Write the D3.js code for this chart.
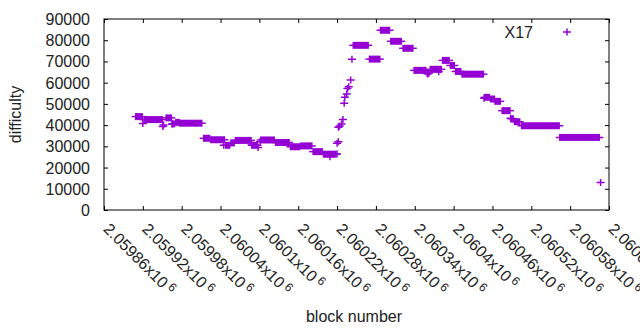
<!DOCTYPE html>
<html>
<head>
<meta charset="utf-8">
<script src="https://cdn.jsdelivr.net/npm/d3@7"></script>
<style>
body { margin: 0; background: #fff; }
text { font-family: "Liberation Sans", Arial, sans-serif; }
</style>
</head>
<body>
<script>
// runs of blocks that share one difficulty: first block, last block, difficulty
var runStart = [2059909, 2059922, 2059956, 2059966, 2059971, 2059977, 2060014, 2060025, 2060048, 2060056,
                2060063, 2060089, 2060102, 2060125, 2060148, 2060164, 2060183, 2060199, 2060245, 2060270,
                2060287, 2060303, 2060322, 2060339, 2060359, 2060364, 2060383, 2060395, 2060403, 2060413,
                2060448, 2060457, 2060464, 2060475, 2060489, 2060494, 2060505, 2060564];
var runEnd   = [2059919, 2059950, 2059964, 2059969, 2059976, 2060011, 2060023, 2060046, 2060054, 2060061,
                2060087, 2060097, 2060123, 2060146, 2060162, 2060181, 2060197, 2060218, 2060268, 2060286,
                2060301, 2060319, 2060337, 2060357, 2060362, 2060381, 2060393, 2060401, 2060411, 2060446,
                2060455, 2060463, 2060472, 2060487, 2060492, 2060502, 2060563, 2060625];
var runDiff  = [44000, 42600, 43400, 40600, 41300, 40900, 33800, 33100, 30500, 31600,
                32800, 30500, 33000, 31800, 29800, 30200, 27500, 26300, 77600, 71100,
                84700, 79500, 76200, 65800, 64500, 66300, 70500, 68100, 65300, 64000,
                53100, 52300, 51200, 46800, 43000, 41600, 39700, 34200];

// single blocks off the runs
var ptBlock = [2059920, 2059951, 2059952, 2059965, 2060045, 2060088, 2060098, 2060101, 2060209, 2060220,
               2060220, 2060222, 2060222, 2060224, 2060227, 2060229, 2060231, 2060232, 2060235, 2060236,
               2060238, 2060241, 2060243, 2060360, 2060377, 2060447, 2060488, 2060627];
var ptDiff  = [40800, 39300, 40100, 40400, 30500, 30600, 29400, 32200, 25100, 26400,
               31400, 32200, 39000, 39600, 40500, 42700, 50300, 53100, 54700, 57300,
               58100, 61300, 71000, 64100, 65200, 52600, 43200, 13000];

var xTicks = [2059860, 2059920, 2059980, 2060040, 2060100, 2060160, 2060220,
              2060280, 2060340, 2060400, 2060460, 2060520, 2060580, 2060640];
var yTicks = [0, 10000, 20000, 30000, 40000, 50000, 60000, 70000, 80000, 90000];
var seriesName = 'X17';

var w = 640, h = 330;
var mLeft = 104, mRight = 609, mTop = 19, mBottom = 210;
var color = '#9400d3';
var arm = 4;

var svg = d3.select('body').append('svg')
            .attr('width', w)
            .attr('height', h);

var x = d3.scaleLinear().domain([xTicks[0], xTicks[xTicks.length - 1]]).range([mLeft, mRight]);
var y = d3.scaleLinear().domain([0, 90000]).range([mBottom, mTop]);

function styleAxis(g){
	g.select('.domain').remove();
	g.selectAll('line').attr('stroke', '#000');
	g.attr('font-size', 16).attr('font-family', null);
	g.selectAll('text').attr('fill', '#222');
}

// y axis + mirror
svg.append('g')
   .attr('transform', 'translate(' + mLeft + ',0)')
   .call(d3.axisLeft(y).tickValues(yTicks).tickSize(-4).tickPadding(14).tickFormat(d3.format('d')))
   .call(styleAxis)
   .selectAll('text').attr('dy', '0.34em');
svg.append('g')
   .attr('transform', 'translate(' + mRight + ',0)')
   .call(d3.axisRight(y).tickValues(yTicks).tickSize(-4).tickFormat(''))
   .call(styleAxis);

// x axis + mirror
function tickLabel(v){
	return String(+(v / 1e6).toPrecision(6));
}
var xg = svg.append('g')
   .attr('transform', 'translate(0,' + mBottom + ')')
   .call(d3.axisBottom(x).tickValues(xTicks).tickSize(-4).tickFormat(''))
   .call(styleAxis);
xg.selectAll('.tick').append('text')
   .attr('fill', '#222')
   .attr('text-anchor', 'start')
   .attr('transform', 'translate(-2,20) rotate(45)')
   .each(function(d){
	   var t = d3.select(this);
	   t.append('tspan').text(tickLabel(d) + 'x10');
	   t.append('tspan').attr('dx', 3).attr('dy', -5).attr('font-size', 12).text('6');
   });
svg.append('g')
   .attr('transform', 'translate(0,' + mTop + ')')
   .call(d3.axisTop(x).tickValues(xTicks).tickSize(-4).tickFormat(''))
   .call(styleAxis);

// frame
svg.append('rect')
   .attr('x', mLeft).attr('y', mTop)
   .attr('width', mRight - mLeft).attr('height', mBottom - mTop)
   .attr('fill', 'none').attr('stroke', '#000');

// axis titles
svg.append('text')
   .attr('x', 354).attr('y', 322)
   .attr('text-anchor', 'middle')
   .attr('font-size', 16).attr('fill', '#222')
   .text('block number');
svg.append('text')
   .attr('transform', 'translate(21,' + ((mTop + mBottom) / 2) + ') rotate(-90)')
   .attr('text-anchor', 'middle')
   .attr('font-size', 16).attr('fill', '#222')
   .text('difficulty');

// runs: the '+' marks of neighbouring blocks merge into a bar
var runs = d3.range(runStart.length).map(function(i){
	return {a: runStart[i], b: runEnd[i], d: runDiff[i]};
});
var runG = svg.append('g');
runG.selectAll('rect')
    .data(runs)
    .enter()
    .append('rect')
    .attr('x', function(d){ return x(d.a) - 0.75; })
    .attr('width', function(d){ return x(d.b) - x(d.a) + 1.5; })
    .attr('y', function(d){ return y(d.d) - 3.5; })
    .attr('height', 7)
    .attr('fill', color);
runG.selectAll('line')
    .data(runs)
    .enter()
    .append('line')
    .attr('x1', function(d){ return x(d.a) - arm; })
    .attr('x2', function(d){ return x(d.b) + arm; })
    .attr('y1', function(d){ return y(d.d); })
    .attr('y2', function(d){ return y(d.d); })
    .attr('stroke', color)
    .attr('stroke-width', 1.5);

function plus(cx, cy){
	return 'M' + (cx - arm) + ',' + cy + 'H' + (cx + arm) +
	       'M' + cx + ',' + (cy - 3.5) + 'V' + (cy + 3.5);
}

var pts = d3.range(ptBlock.length).map(function(i){
	return {b: ptBlock[i], d: ptDiff[i]};
});
svg.append('g')
   .selectAll('path')
   .data(pts)
   .enter()
   .append('path')
   .attr('d', function(d){ return plus(x(d.b), y(d.d)); })
   .attr('stroke', color)
   .attr('stroke-width', 1.5)
   .attr('fill', 'none');

// key
svg.append('text')
   .attr('x', 533).attr('y', 38)
   .attr('text-anchor', 'end')
   .attr('font-size', 16).attr('fill', '#222')
   .text(seriesName);
svg.append('path')
   .attr('d', plus(567, 32))
   .attr('stroke', color)
   .attr('stroke-width', 1.5)
   .attr('fill', 'none');
</script>
</body>
</html>
